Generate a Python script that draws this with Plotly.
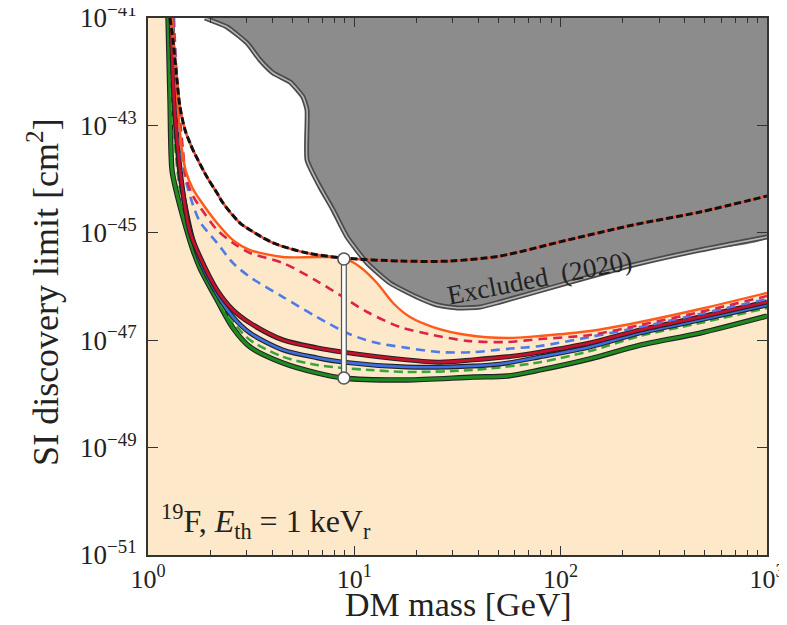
import plotly.graph_objects as go

# ---------------- data ----------------
# top curve: black dashed with red dashes
top_m = [1.278, 1.322, 1.382, 1.429, 1.512, 1.598, 1.652, 1.932, 2.161, 2.309, 2.792, 3.122,
         4.036, 5.898, 8.815, 16.66, 29.10, 50.85, 107.4, 224.4, 474.0, 1000]
top_s = [1.0e-41, 3.89e-42, 7.0e-43, 2.20e-43, 8.2e-44, 4.70e-44, 3.48e-44, 1.09e-44, 5.5e-45,
         3.59e-45, 1.52e-45, 1.13e-45, 6.5e-46, 4.21e-46, 3.40e-46, 2.98e-46, 2.98e-46,
         3.70e-46, 7.3e-46, 1.40e-45, 2.44e-45, 4.84e-45]

# orange solid (upper edge of the shaded region)
orange_m = [1.307, 1.352, 1.398, 1.462, 1.529, 1.652, 1.787, 2.161, 2.582, 3.122, 4.511, 6.596,
            8.815, 10.66, 12.88, 15.40, 18.62, 24.07, 35.18, 54.99, 79.46, 138.9, 242.6, 474.0, 1000]
orange_s = [1.0e-41, 1.65e-42, 1.94e-43, 3.48e-44, 1.36e-44, 6.54e-45, 4.08e-45, 1.52e-45,
            7.3e-46, 4.78e-46, 3.54e-46, 3.54e-46, 3.40e-46, 2.31e-46, 1.16e-46, 4.93e-47,
            2.70e-47, 1.76e-47, 1.25e-47, 1.10e-47, 1.20e-47, 1.48e-47, 2.18e-47, 3.81e-47, 7.6e-47]

# crimson dashed
cdash_m = [1.322, 1.382, 1.445, 1.478, 1.529, 1.652, 1.787, 2.161, 2.582, 3.122, 4.511, 6.596,
           8.815, 11.53, 16.66, 24.07, 35.18, 54.99, 79.46, 138.9, 242.6, 474.0, 1000]
cdash_s = [1.0e-41, 7.0e-43, 8.2e-44, 3.48e-44, 1.05e-44, 4.84e-45, 3.02e-45, 1.13e-45, 6.5e-46,
           4.21e-46, 2.74e-46, 1.26e-46, 6.37e-47, 3.35e-47, 1.76e-47, 1.25e-47, 9.7e-48,
           9.25e-48, 1.05e-47, 1.25e-47, 1.92e-47, 3.35e-47, 6.65e-47]

# blue dashed
bdash_m = [1.337, 1.382, 1.429, 1.478, 1.545, 1.652, 1.787, 2.161, 2.582, 3.122, 4.511, 6.596,
           9.22, 12.3, 18.01, 26.03, 37.62, 54.99, 79.46, 138.9, 242.6, 474.0, 1000]
bdash_s = [1.0e-41, 4.56e-43, 5.35e-44, 1.83e-44, 7.76e-45, 3.30e-45, 1.59e-45, 6.5e-46, 2.74e-46,
           1.50e-46, 6.37e-47, 2.70e-47, 1.36e-47, 9.25e-48, 7.2e-48, 6.0e-48, 6.0e-48, 6.9e-48,
           7.8e-48, 1.15e-47, 1.76e-47, 3.08e-47, 5.85e-47]

# crimson solid
csol_m = [1.293, 1.337, 1.398, 1.495, 1.598, 1.787, 2.161, 2.582, 3.122, 4.511, 6.596, 8.815,
          18.01, 26.03, 37.62, 54.99, 79.46, 138.9, 242.6, 474.0, 1000]
csol_s = [1.0e-41, 2.97e-43, 3.48e-44, 4.08e-45, 1.04e-45, 3.54e-46, 8.6e-47, 3.65e-47, 2.09e-47,
          1.01e-47, 7.2e-48, 6.0e-48, 4.3e-48, 3.9e-48, 4.3e-48, 4.9e-48, 6.0e-48, 8.9e-48,
          1.55e-47, 2.70e-47, 5.15e-47]

# blue solid
bsol_m = [1.307, 1.352, 1.429, 1.529, 1.652, 1.787, 2.161, 2.582, 3.122, 4.511, 6.596, 8.815,
          18.01, 37.62, 54.99, 79.46, 138.9, 242.6, 474.0, 1000]
bsol_s = [1.0e-41, 1.94e-43, 1.19e-44, 2.66e-45, 7.3e-46, 2.98e-46, 7.24e-47, 2.70e-47, 1.36e-47,
          6.6e-48, 4.7e-48, 3.9e-48, 3.17e-48, 3.31e-48, 3.76e-48, 4.9e-48, 7.5e-48, 1.36e-47,
          2.38e-47, 4.52e-47]

# green dashed
gdash_m = [1.278, 1.322, 1.429, 1.545, 1.652, 1.787, 2.161, 2.582, 3.122, 4.511, 6.596, 8.815,
           11.91, 18.01, 37.62, 79.46, 138.9, 242.6, 474.0, 1000]
gdash_s = [1.0e-41, 1.26e-43, 6.27e-45, 1.59e-45, 5.93e-46, 2.62e-46, 6.37e-47, 2.18e-47, 1.01e-47,
           4.9e-48, 3.45e-48, 3.03e-48, 2.79e-48, 2.56e-48, 2.79e-48, 3.9e-48, 6.3e-48, 1.20e-47,
           2.09e-47, 3.98e-47]

# green solid
gsol_m = [1.250, 1.278, 1.307, 1.367, 1.478, 1.652, 1.787, 2.161, 2.582, 3.122, 4.511, 6.596,
          8.815, 18.01, 37.62, 54.99, 79.46, 138.9, 242.6, 474.0, 1000]
gsol_s = [1.0e-41, 2.97e-43, 1.48e-44, 6.27e-45, 1.97e-45, 4.78e-46, 2.21e-46, 5.61e-47, 1.69e-47,
          7.5e-48, 3.76e-48, 2.45e-48, 1.98e-48, 1.82e-48, 2.06e-48, 2.15e-48, 2.79e-48, 4.5e-48,
          8.1e-48, 1.36e-47, 2.82e-47]

# excluded region (2020) lower boundary
excl_m = [1.889, 2.113, 2.415, 3.02, 3.49, 4.04, 4.88, 5.64, 5.90, 5.90, 6.82, 7.89, 9.22, 11.53,
          14.89, 20.1, 25.2, 31.5, 40.7, 50.8, 107.4, 224.4, 474.0, 1000]
excl_s = [1.0e-41, 8.43e-42, 6.8e-42, 3.42e-42, 1.65e-42, 9.46e-43, 6.43e-43, 3.38e-43, 1.94e-43,
          2.27e-44, 7.13e-45, 2.66e-45, 8.35e-46, 2.74e-46, 1.16e-46, 6.37e-47, 4.52e-47, 3.98e-47,
          4.15e-47, 5.15e-47, 1.16e-46, 2.51e-46, 4.78e-46, 8.35e-46]

# marker bar (top / bottom of the vertical connector)
bar_m = [8.9, 8.9]
bar_s = [3.25e-46, 1.98e-48]

x_tickvals = [1, 10, 100, 1000]
x_ticktext = ["10<sup>0</sup>", "10<sup>1</sup>", "10<sup>2</sup>", "10<sup>3</sup>"]
x_minor = [d * 10 ** e for e in range(3) for d in range(2, 10)]
y_tickvals = [1e-51, 1e-49, 1e-47, 1e-45, 1e-43, 1e-41]
y_ticktext = ["10<sup>\u221251</sup>", "10<sup>\u221249</sup>", "10<sup>\u221247</sup>",
              "10<sup>\u221245</sup>", "10<sup>\u221243</sup>", "10<sup>\u221241</sup>"]

# ---------------- figure ----------------
BEIGE = "#fde9c9"
GRAY = "#8c8c8c"
FONT = "Liberation Serif"
SPL = dict(shape="spline", smoothing=0.8)

fig = go.Figure()

# beige region below the orange curve
fig.add_trace(go.Scatter(
    x=[1.0] + orange_m + [1000, 1.0],
    y=[1e-41] + orange_s + [1e-52, 1e-52],
    mode="lines", line=dict(width=0), fill="toself", fillcolor=BEIGE,
    hoverinfo="skip", showlegend=False))

# excluded (gray) region
EXS = dict(shape="spline", smoothing=0.5)
fig.add_trace(go.Scatter(
    x=excl_m + [1000, excl_m[0]],
    y=excl_s + [1e-40, 1e-40],
    mode="lines", line=dict(width=0, **EXS), fill="toself", fillcolor=GRAY,
    hoverinfo="skip", showlegend=False))
fig.add_trace(go.Scatter(x=excl_m, y=excl_s, mode="lines",
                         line=dict(color="#4a4a4a", width=5, **EXS), hoverinfo="skip",
                         showlegend=False))
fig.add_trace(go.Scatter(x=excl_m, y=excl_s, mode="lines",
                         line=dict(color="#b5b5b5", width=1.6, **EXS), hoverinfo="skip",
                         showlegend=False))


def outlined(m, s, color, width, outline="#222222", dash=None, owidth=None):
    if outline is not None:
        fig.add_trace(go.Scatter(x=m, y=s, mode="lines",
                                 line=dict(color=outline, width=owidth or width + 2.2, **SPL),
                                 hoverinfo="skip", showlegend=False))
    fig.add_trace(go.Scatter(x=m, y=s, mode="lines",
                             line=dict(color=color, width=width, dash=dash, **SPL),
                             hoverinfo="skip", showlegend=False))


# curves (solid ones with dark outlines)
outlined(gsol_m, gsol_s, "#1f8a1f", 3.2)
outlined(gdash_m, gdash_s, "#3aa63a", 2.6, outline=None, dash="9px,5px")
outlined(bsol_m, bsol_s, "#3f6fe0", 2.6)
outlined(csol_m, csol_s, "#c8102e", 2.8)
outlined(bdash_m, bdash_s, "#4f7ae8", 2.6, outline=None, dash="9px,6px")
outlined(cdash_m, cdash_s, "#dc2448", 2.6, outline=None, dash="9px,6px")
outlined(orange_m, orange_s, "#ff5a1a", 2.4, outline=None)

# top curve: red line under black dashes
fig.add_trace(go.Scatter(x=top_m, y=top_s, mode="lines",
                         line=dict(color="#e8503c", width=2.6, **SPL), hoverinfo="skip",
                         showlegend=False))
fig.add_trace(go.Scatter(x=top_m, y=top_s, mode="lines",
                         line=dict(color="#111111", width=3, dash="7px,3px", **SPL),
                         hoverinfo="skip", showlegend=False))

# marker bar
fig.add_trace(go.Scatter(x=bar_m, y=bar_s, mode="lines",
                         line=dict(color="#555555", width=6), hoverinfo="skip", showlegend=False))
fig.add_trace(go.Scatter(x=bar_m, y=bar_s, mode="lines",
                         line=dict(color="white", width=3.5), hoverinfo="skip", showlegend=False))
fig.add_trace(go.Scatter(x=bar_m, y=bar_s, mode="markers",
                         marker=dict(size=12, color="white", line=dict(color="#555555", width=1.6)),
                         hoverinfo="skip", showlegend=False))

axis_common = dict(showline=True, linecolor="#333333", linewidth=2, mirror="ticks",
                   ticks="inside", tickcolor="#333333", showgrid=False, zeroline=False,
                   automargin=False, ticklabeloverflow="allow")

fig.update_xaxes(type="log", range=[0, 3], tickvals=x_tickvals, ticktext=x_ticktext,
                 ticklen=9, tickwidth=1.2, ticklabelstandoff=0,
                 tickfont=dict(family=FONT, size=26, color="#222222"),
                 minor=dict(tickvals=x_minor, ticks="inside", ticklen=5, tickcolor="#333333",
                            tickwidth=1),
                 **axis_common)
fig.update_yaxes(type="log", range=[-51, -41], tickvals=y_tickvals, ticktext=y_ticktext,
                 ticklen=10, tickwidth=1.2, ticklabelstandoff=4,
                 tickfont=dict(family=FONT, size=27, color="#222222"),
                 **axis_common)

# page body has an 8px margin: size the figure so the plot area lands at x 148-767, y 18-555
fig.update_layout(
    width=779, height=617,
    margin=dict(l=140, r=20, t=10, b=70),
    plot_bgcolor="white", paper_bgcolor="white",
    font=dict(family=FONT, color="#222222"),
    showlegend=False,
    annotations=[
        dict(text="DM mass [GeV]", xref="paper", yref="paper", x=0.501, y=-0.093,
             showarrow=False, xanchor="center", yanchor="middle",
             font=dict(family=FONT, size=34, color="#222222")),
        dict(text="SI discovery limit [cm<sup>2</sup>]", xref="paper", yref="paper",
             x=-0.168, y=0.49, textangle=-90, showarrow=False,
             xanchor="center", yanchor="middle",
             font=dict(family=FONT, size=36, color="#222222")),
        dict(text="<sup>19</sup>F, <i>E</i><sub>th</sub> = 1 keV<sub>r</sub>",
             xref="paper", yref="paper", x=0.018, y=0.062, showarrow=False,
             xanchor="left", yanchor="middle",
             font=dict(family=FONT, size=32, color="#222222")),
        dict(text="Excluded  (2020)", xref="paper", yref="paper", x=0.632, y=0.515,
             textangle=-11, showarrow=False, xanchor="center", yanchor="middle",
             font=dict(family=FONT, size=27, color="#222222")),
    ],
)

fig.write_html("out.html")
